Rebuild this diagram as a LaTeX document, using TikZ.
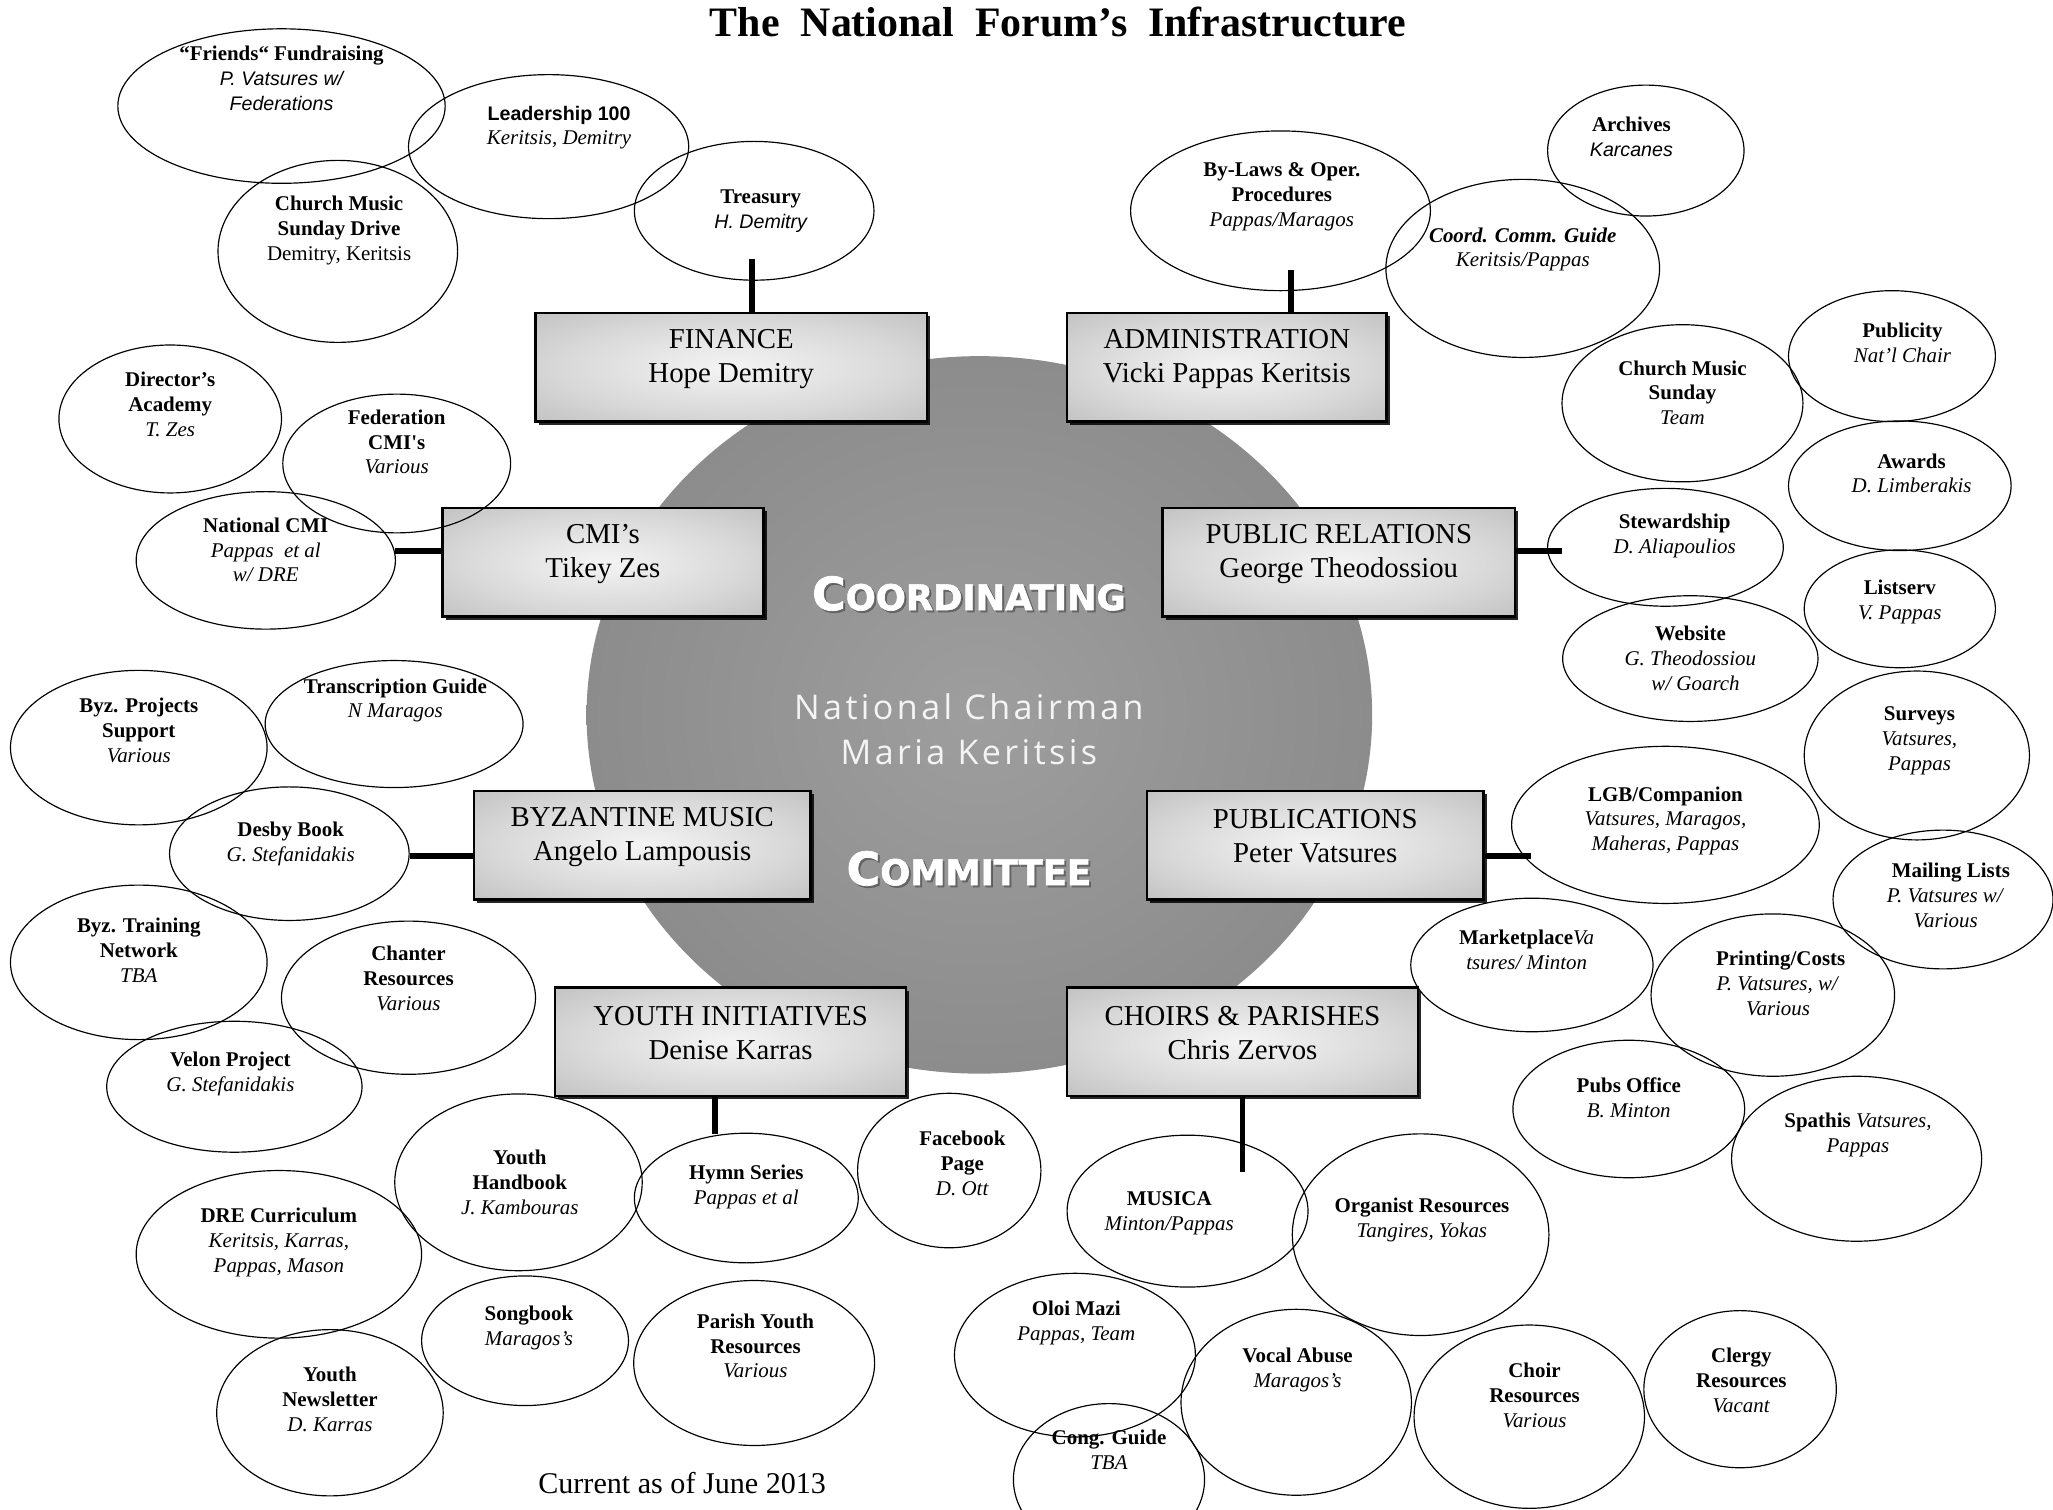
\documentclass[tikz,border=0pt]{standalone}
\usepackage{fontspec}
\setmainfont{Liberation Serif}
\newfontfamily\arialf{Liberation Sans}
\newfontfamily\chairf{Open Sans}[LetterSpace=10]
\newfontface\heavyf{DejaVu Sans Bold}[FakeBold=1.6]
\usetikzlibrary{shapes.geometric,shadows}
\definecolor{discin}{HTML}{9E9E9E}
\definecolor{discout}{HTML}{7A7A7A}
\definecolor{boxin}{HTML}{F4F4F4}
\definecolor{boxmid}{HTML}{D8D8D8}
\definecolor{boxout}{HTML}{BBBBBB}
\definecolor{chairtxt}{HTML}{F4F4F4}
\definecolor{txtshadow}{HTML}{4A4A4A}
\pgfdeclareradialshading{discshade}{\pgfpoint{0bp}{0bp}}{color(0bp)=(discin); color(50bp)=(discout)}
\pgfdeclareradialshading{boxshade}{\pgfpoint{0bp}{0bp}}{color(0bp)=(boxin); color(22bp)=(boxmid); color(40bp)=(boxout); color(50bp)=(boxout)}
\newcommand\xB[1]{\textbf{#1}}
\newcommand\xI[1]{\textit{#1}}
\newcommand\xBI[1]{\textbf{\textit{#1}}}
\newcommand\xSB[1]{{\arialf\bfseries\fontsize{15}{19}\selectfont #1}}
\newcommand\xSI[1]{{\arialf\itshape\fontsize{15}{19}\selectfont #1}}
\newcommand\coordword{\heavyf\fontsize{35}{35}\selectfont C\fontsize{27}{27}\selectfont OORDINATING}
\newcommand\commword{\heavyf\fontsize{35}{35}\selectfont C\fontsize{27}{27}\selectfont OMMITTEE}
\tikzset{
  deptbox/.style={rectangle, draw=black, line width=2pt, minimum height=83pt, inner sep=0pt,
    shade, shading=boxshade,
    drop shadow={shadow xshift=2.5pt, shadow yshift=-2.5pt, fill=black, opacity=0.85}},
  btxt/.style={align=center, inner sep=0pt, font=\fontsize{22}{26}\selectfont},
  conn/.style={line width=4.5pt, draw=black},
  ell/.style={ellipse, draw=black, line width=0.9pt, inner sep=0pt},
  ellsz/.style 2 args={minimum width=#1pt, minimum height=#2pt},
  etxt/.style={align=center, inner sep=0pt, font=\fontsize{16}{19}\selectfont},
}
\begin{document}
\begin{tikzpicture}[x=1pt,y=-1pt]
\useasboundingbox (0,0) rectangle (1568,1153);
\fill[white] (0,0) rectangle (1568,1153);
\clip (0,0) rectangle (1568,1153);

% central disc
\node[ellipse, shade, shading=discshade, minimum width=600pt, minimum height=548pt, inner sep=0pt] (disc) at (748,546) {};

% title and footer
\node[anchor=base, inner sep=0pt, font=\fontsize{32}{36}\selectfont\bfseries] (title) at (808,28) {The\ \ National\ \ Forum’s\ \ Infrastructure};
\node[anchor=base, inner sep=0pt, font=\fontsize{23}{26}\selectfont] (foot) at (521,1141) {Current as of June 2013};

% centre texts
\node[anchor=base, inner sep=0pt, text=txtshadow, opacity=0.6] (coords) at (741.5,467.5) {\coordword};
\node[anchor=base, inner sep=0pt, text=white] (coordw) at (740,466) {\coordword};
\node[anchor=base, inner sep=0pt, text=txtshadow, opacity=0.6] (comms) at (741.5,677.5) {\commword};
\node[anchor=base, inner sep=0pt, text=white] (commw) at (740,676) {\commword};
\node[align=center, inner sep=0pt, text=chairtxt, font=\chairf\fontsize{26}{35}\selectfont] (chair) at (740,557) {National Chairman\\Maria Keritsis};

% department boxes
\node[deptbox, minimum width=299pt] (fin) at (558.5,280.5) {};
\node[deptbox, minimum width=244pt] (adm) at (937,280.5) {};
\node[deptbox, minimum width=245pt] (cmi) at (460.5,429.5) {};
\node[deptbox, minimum width=269pt] (pr)  at (1022.5,429.5) {};
\node[deptbox, minimum width=257pt] (byz) at (490.5,645.5) {};
\node[deptbox, minimum width=257pt] (pub) at (1004.5,645.5) {};
\node[deptbox, minimum width=268pt] (yth) at (558,795.5) {};
\node[deptbox, minimum width=268pt] (chr) at (949,795.5) {};

\node[btxt] (fin-t) at (558.5,274) {FINANCE\\Hope Demitry};
\node[btxt] (adm-t) at (937,274) {ADMINISTRATION\\Vicki Pappas Keritsis};
\node[btxt] (cmi-t) at (460.5,423) {CMI’s\\Tikey Zes};
\node[btxt] (pr-t)  at (1022.5,423) {PUBLIC RELATIONS\\George Theodossiou};
\node[btxt] (byz-t) at (490.5,639) {BYZANTINE MUSIC\\Angelo Lampousis};
\node[btxt] (pub-t) at (1004.5,639) {PUBLICATIONS\\Peter Vatsures};
\node[btxt] (yth-t) at (558,789) {YOUTH INITIATIVES\\Denise Karras};
\node[btxt] (chr-t) at (949,789) {CHOIRS \& PARISHES\\Chris Zervos};

% connector ends
\coordinate (fincon) at (574,198);
\coordinate (admcon) at (986,206);
\coordinate (cmicon) at (302,421);
\coordinate (prcon)  at (1193,421);
\coordinate (byzcon) at (313,654);
\coordinate (pubcon) at (1169,654);
\coordinate (ythcon) at (546,866);
\coordinate (chrcon) at (949,895);

\draw[conn] (fincon |- fin.north) -- (fincon);
\draw[conn] (admcon |- adm.north) -- (admcon);
\draw[conn] (cmi.west |- cmicon) -- (cmicon);
\draw[conn] (pr.east |- prcon) -- (prcon);
\draw[conn] (byz.west |- byzcon) -- (byzcon);
\draw[conn] (pub.east |- pubcon) -- (pubcon);
\draw[conn] (ythcon |- yth.south) -- (ythcon);
\draw[conn] (chrcon |- chr.south) -- (chrcon);

% ellipses
\node[ell, ellsz={250}{118}] (fr)    at (215,81) {};
\node[ell, ellsz={214}{110}] (lead)  at (419,112) {};
\node[ell, ellsz={183}{139}] (cms)   at (258,192) {};
\node[ell, ellsz={183}{106}] (treas) at (576,161) {};
\node[ell, ellsz={229}{122}] (bylaw) at (978,161) {};
\node[ell, ellsz={150}{100}] (arch)  at (1257,115) {};
\node[ell, ellsz={209}{136}] (ccg)   at (1163,205) {};
\node[ell, ellsz={184}{120}] (cmst)  at (1285,308) {};
\node[ell, ellsz={158}{100}] (publ)  at (1445,272) {};
\node[ell, ellsz={170}{99}]  (awd)   at (1451,371) {};
\node[ell, ellsz={180}{90}]  (stew)  at (1272,418) {};
\node[ell, ellsz={146}{90}]  (lsv)   at (1451,465) {};
\node[ell, ellsz={195}{96}]  (web)   at (1291,503) {};
\node[ell, ellsz={172}{129}] (surv)  at (1464,577) {};
\node[ell, ellsz={235}{120}] (lgb)   at (1272,630) {};
\node[ell, ellsz={168}{106}] (mail)  at (1484,687) {};
\node[ell, ellsz={185}{102}] (mkt)   at (1170,737) {};
\node[ell, ellsz={186}{124}] (print) at (1354,760) {};
\node[ell, ellsz={177}{105}] (pubo)  at (1244,847) {};
\node[ell, ellsz={191}{126}] (spa)   at (1418,885) {};
\node[ell, ellsz={170}{113}] (dira)  at (130,320) {};
\node[ell, ellsz={174}{106}] (fedc)  at (303,354) {};
\node[ell, ellsz={198}{105}] (ncmi)  at (203,428) {};
\node[ell, ellsz={196}{118}] (byzp)  at (106,571) {};
\node[ell, ellsz={197}{97}]  (trans) at (301,553) {};
\node[ell, ellsz={183}{102}] (desby) at (221,652) {};
\node[ell, ellsz={196}{118}] (byzt)  at (106,735) {};
\node[ell, ellsz={194}{117}] (chant) at (312,762) {};
\node[ell, ellsz={195}{100}] (velon) at (179,830) {};
\node[ell, ellsz={218}{128}] (dre)   at (213,958) {};
\node[ell, ellsz={189}{135}] (yhb)   at (396,903) {};
\node[ell, ellsz={171}{99}]  (hymn)  at (570,915) {};
\node[ell, ellsz={140}{118}] (fb)    at (725,894) {};
\node[ell, ellsz={158}{99}]  (song)  at (401,1024) {};
\node[ell, ellsz={184}{126}] (pyr)   at (576,1041) {};
\node[ell, ellsz={173}{127}] (ynews) at (252,1079) {};
\node[ell, ellsz={184}{116}] (musica) at (907,925) {};
\node[ell, ellsz={196}{154}] (organ) at (1085,943) {};
\node[ell, ellsz={184}{125}] (oloi)  at (821,1035) {};
\node[ell, ellsz={176}{142}] (vocal) at (990,1071) {};
\node[ell, ellsz={176}{140}] (choir) at (1168,1082) {};
\node[ell, ellsz={147}{120}] (clergy) at (1329,1061) {};
\node[ell, ellsz={146}{116}] (cong)  at (847,1130) {};

% ellipse texts
\node[etxt] (fr-t)    at (215,60)    {\xB{“Friends“ Fundraising}\\\xSI{P. Vatsures w/}\\\xSI{Federations}};
\node[etxt] (lead-t)  at (427,97.5)  {\xSB{Leadership 100}\\\xI{Keritsis, Demitry}};
\node[etxt] (cms-t)   at (259,176)   {\xB{Church Music}\\\xB{Sunday Drive}\\Demitry, Keritsis};
\node[etxt] (treas-t) at (581,161.5) {\xB{Treasury}\\\xSI{H. Demitry}};
\node[etxt] (bylaw-t) at (979,150)   {\xB{By-Laws \& Oper.}\\\xB{Procedures}\\\xI{Pappas/Maragos}};
\node[etxt] (arch-t)  at (1246,104.5) {\xB{Archives}\\\xSI{Karcanes}};
\node[etxt] (ccg-t)   at (1163,190.5) {\xBI{Coord. Comm. Guide}\\\xI{Keritsis/Pappas}};
\node[etxt] (cmst-t)  at (1285,300)  {\xB{Church Music}\\\xB{Sunday}\\\xI{Team}};
\node[etxt] (publ-t)  at (1453,262)  {\xB{Publicity}\\\xI{Nat’l Chair}};
\node[etxt] (awd-t)   at (1460,361.5) {\xB{Awards}\\\xI{D. Limberakis}};
\node[etxt] (stew-t)  at (1279,409.5) {\xB{Stewardship}\\\xI{D. Aliapoulios}};
\node[etxt] (lsv-t)   at (1451,459.5) {\xB{Listserv}\\\xI{V. Pappas}};
\node[etxt] (web-t)   at (1291,503)  {\xB{Website}\\\xI{G. Theodossiou}\\\xI{\ \ w/ Goarch}};
\node[etxt] (surv-t)  at (1466,566)  {\xB{Surveys}\\\xI{Vatsures,}\\\xI{Pappas}};
\node[etxt] (lgb-t)   at (1272,627)  {\xB{LGB/Companion}\\\xI{Vatsures, Maragos,}\\\xI{Maheras, Pappas}};
\node[etxt] (mail-t)  at (1486,684)  {\xB{\ \ Mailing Lists}\\\xI{P. Vatsures w/}\\\xI{Various}};
\node[etxt] (mkt-t)   at (1166,725.5) {\xB{Marketplace}\xI{Va}\\\xI{tsures/ Minton}};
\node[etxt] (print-t) at (1358,751)  {\xB{\ Printing/Costs}\\\xI{P. Vatsures, w/}\\\xI{Various}};
\node[etxt] (pubo-t)  at (1244,838.5) {\xB{Pubs Office}\\\xI{B. Minton}};
\node[etxt] (spa-t)   at (1419,866.5) {\xB{Spathis} \xI{Vatsures,}\\\xI{Pappas}};
\node[etxt] (dira-t)  at (130,309)   {\xB{Director’s}\\\xB{Academy}\\\xI{T. Zes}};
\node[etxt] (fedc-t)  at (303,337.5) {\xB{Federation}\\\xB{CMI\textquotesingle s}\\\xI{Various}};
\node[etxt] (ncmi-t)  at (203,420)   {\xB{National CMI}\\\xI{Pappas\ \ et al}\\\xI{w/ DRE}};
\node[etxt] (byzp-t)  at (106,558)   {\xB{Byz. Projects}\\\xB{Support}\\\xI{Various}};
\node[etxt] (trans-t) at (302,535)   {\xB{Transcription Guide}\\\xI{N Maragos}};
\node[etxt] (desby-t) at (222,644.5) {\xB{Desby Book}\\\xI{G. Stefanidakis}};
\node[etxt] (byzt-t)  at (106,725.5) {\xB{Byz. Training}\\\xB{Network}\\\xI{TBA}};
\node[etxt] (chant-t) at (312,747.5) {\xB{Chanter}\\\xB{Resources}\\\xI{Various}};
\node[etxt] (velon-t) at (176,820)   {\xB{Velon Project}\\\xI{G. Stefanidakis}};
\node[etxt] (dre-t)   at (213,949)   {\xB{DRE Curriculum}\\\xI{Keritsis, Karras,}\\\xI{Pappas, Mason}};
\node[etxt] (yhb-t)   at (397,903)   {\xB{Youth}\\\xB{Handbook}\\\xI{J. Kambouras}};
\node[etxt] (hymn-t)  at (570,906.5) {\xB{Hymn Series}\\\xI{Pappas et al}};
\node[etxt] (fb-t)    at (735,888.5) {\xB{Facebook}\\\xB{Page}\\\xI{D. Ott}};
\node[etxt] (song-t)  at (404,1014)  {\xB{Songbook}\\\xI{Maragos’s}};
\node[etxt] (pyr-t)   at (577,1028)  {\xB{Parish Youth}\\\xB{Resources}\\\xI{Various}};
\node[etxt] (ynews-t) at (252,1069)  {\xB{Youth}\\\xB{Newsletter}\\\xI{D. Karras}};
\node[etxt] (musica-t) at (893,926.5) {\xB{MUSICA}\\\xI{Minton/Pappas}};
\node[etxt] (organ-t) at (1086,931.5) {\xB{Organist Resources}\\\xI{Tangires, Yokas}};
\node[etxt] (oloi-t)  at (822,1010.5) {\xB{Oloi Mazi}\\\xI{Pappas, Team}};
\node[etxt] (vocal-t) at (991,1046.5) {\xB{Vocal Abuse}\\\xI{Maragos’s}};
\node[etxt] (choir-t) at (1172,1066) {\xB{Choir}\\\xB{Resources}\\\xI{Various}};
\node[etxt] (clergy-t) at (1330,1054) {\xB{Clergy}\\\xB{Resources}\\\xI{Vacant}};
\node[etxt] (cong-t)  at (847,1107)  {\xB{Cong. Guide}\\\xI{TBA}};
\end{tikzpicture}
\end{document}
